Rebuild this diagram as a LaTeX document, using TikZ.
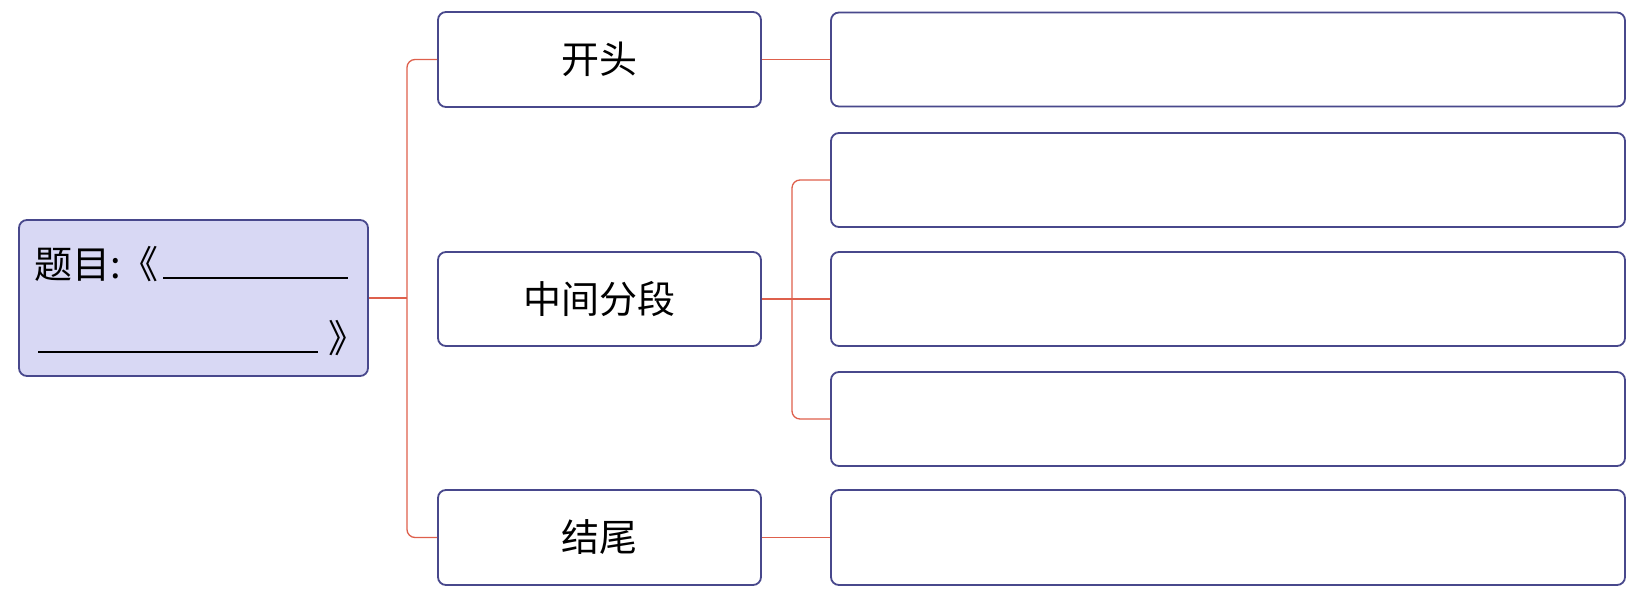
\documentclass[tikz,border=0pt]{standalone}
\usepackage{fontspec}
\newfontfamily\cjk{Noto Sans CJK SC}
\definecolor{boxline}{RGB}{72,72,140}
\definecolor{conn}{RGB}{222,96,76}
\definecolor{titlefill}{RGB}{216,216,244}
\begin{document}
\begin{tikzpicture}[x=1pt,y=-1pt,
  box/.style={draw=boxline,line width=1.8pt,rounded corners=8pt,inner sep=0pt},
  link/.style={draw=conn,line width=1.3pt,rounded corners=8pt},
  lab/.style={font=\cjk\fontsize{38}{40}\selectfont,inner sep=0pt}]
\useasboundingbox (0,0) rectangle (1649,597);
% title box
\node[box,fill=titlefill,minimum width=349pt,minimum height=156pt] (title) at (193.5,298) {};
\node[lab,anchor=base west] (t1) at (34,278) {题目:《};
\node[lab,anchor=base west] (t2) at (328,352) {》};
\draw[line width=1.6pt] (163,278) -- (348,278);
\draw[line width=1.6pt] (38,352) -- (318,352);
% middle column
\node[box,minimum width=323pt,minimum height=95pt] (open) at (599.5,59.5) {};
\node[lab] at (open.center) {开头};
\node[box,minimum width=323pt,minimum height=94pt] (mid) at (599.5,299) {};
\node[lab] at (mid.center) {中间分段};
\node[box,minimum width=323pt,minimum height=95pt] (end) at (599.5,537.5) {};
\node[lab] at (end.center) {结尾};
% right column
\node[box,minimum width=794pt,minimum height=94pt] (r1) at (1228,59.5) {};
\node[box,minimum width=794pt,minimum height=94pt] (r2) at (1228,180) {};
\node[box,minimum width=794pt,minimum height=94pt] (r3) at (1228,299) {};
\node[box,minimum width=794pt,minimum height=94pt] (r4) at (1228,419) {};
\node[box,minimum width=794pt,minimum height=95pt] (r5) at (1228,537.5) {};
% connectors
\coordinate (v1) at (407,298);
\coordinate (v2) at (792,299);
\draw[link] (title.east) -- (v1);
\draw[link] (open.west) -- (v1 |- open.west) -- (v1 |- end.west) -- (end.west);
\draw[link] (open.east) -- (r1.west);
\draw[link] (end.east) -- (r5.west);
\draw[link] (mid.east) -- (r3.west);
\draw[link] (r2.west) -- (v2 |- r2.west) -- (v2 |- r4.west) -- (r4.west);
\end{tikzpicture}
\end{document}
